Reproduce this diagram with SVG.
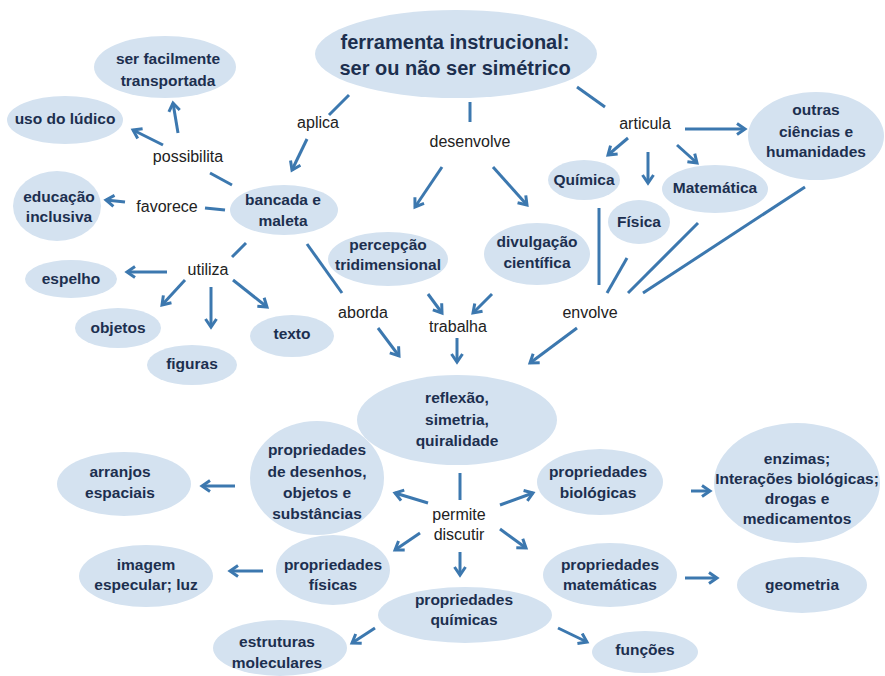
<svg xmlns="http://www.w3.org/2000/svg" width="885" height="676" viewBox="0 0 885 676">
<style>
.n ellipse{fill:#d4e2f0;}
.n text{font-family:"Liberation Sans",Arial,sans-serif;font-weight:bold;font-size:15.5px;fill:#1c2f4f;text-anchor:middle;}
.n text.t{font-size:20px;}
.c line,.c polyline{stroke:#3c78af;stroke-width:3;fill:none;stroke-linecap:butt;}
.c line.a{marker-end:url(#ah);}
.c text{font-family:"Liberation Sans",Arial,sans-serif;font-size:16px;fill:#222;text-anchor:middle;}
</style>
<defs>
<marker id="ah" markerUnits="userSpaceOnUse" markerWidth="14" markerHeight="14" viewBox="0 0 14 14" refX="11" refY="7" orient="auto">
<path d="M3,1.5 L11,7 L3,12.5" fill="none" stroke="#3c78af" stroke-width="3"/>
</marker>
</defs>
<rect width="885" height="676" fill="#fff"/>

<g class="c" id="connectors">
<line x1="349" y1="95" x2="329" y2="115"/>
<text x="318" y="128">aplica</text>
<line class="a" x1="307" y1="139" x2="292" y2="170"/>
<line x1="470" y1="102" x2="470" y2="122"/>
<text x="470" y="147">desenvolve</text>
<line class="a" x1="442" y1="167" x2="415" y2="207"/>
<line class="a" x1="493" y1="167" x2="527" y2="205"/>
<line x1="577" y1="87" x2="605" y2="107"/>
<text x="645" y="129">articula</text>
<line class="a" x1="685" y1="129" x2="745" y2="129"/>
<line class="a" x1="628" y1="138" x2="608" y2="155"/>
<line class="a" x1="648" y1="152" x2="648" y2="183"/>
<line class="a" x1="677" y1="145" x2="697" y2="163"/>
<line x1="599" y1="208" x2="599" y2="285"/>
<line x1="627" y1="258" x2="607" y2="293"/>
<line x1="698" y1="223" x2="628" y2="293"/>
<line x1="805" y1="187" x2="643" y2="293"/>
<text x="590" y="318">envolve</text>
<line class="a" x1="577" y1="328" x2="530" y2="363"/>
<line class="a" x1="428" y1="294" x2="442" y2="313"/>
<line class="a" x1="492" y1="294" x2="473" y2="313"/>
<text x="458" y="332">trabalha</text>
<line class="a" x1="457" y1="338" x2="457" y2="362"/>
<line x1="307" y1="244" x2="342" y2="293"/>
<text x="363" y="318">aborda</text>
<line class="a" x1="378" y1="328" x2="399" y2="356"/>
<line x1="232" y1="185" x2="210" y2="173"/>
<text x="188" y="162">possibilita</text>
<line class="a" x1="178" y1="133" x2="173" y2="103"/>
<line class="a" x1="163" y1="145" x2="133" y2="130"/>
<line x1="225" y1="210" x2="205" y2="208"/>
<text x="167" y="212">favorece</text>
<line class="a" x1="125" y1="202" x2="106" y2="200"/>
<line x1="246" y1="243" x2="232" y2="257"/>
<text x="208" y="275">utiliza</text>
<line class="a" x1="167" y1="272" x2="127" y2="272"/>
<line class="a" x1="185" y1="280" x2="162" y2="305"/>
<line class="a" x1="211" y1="287" x2="211" y2="327"/>
<line class="a" x1="233" y1="280" x2="267" y2="307"/>
<line x1="460" y1="473" x2="460" y2="500"/>
<text x="459" y="520">permite</text>
<text x="459" y="540">discutir</text>
<line class="a" x1="428" y1="503" x2="395" y2="493"/>
<line class="a" x1="500" y1="505" x2="533" y2="493"/>
<line class="a" x1="420" y1="533" x2="395" y2="550"/>
<line class="a" x1="500" y1="529" x2="526" y2="548"/>
<line class="a" x1="460" y1="552" x2="460" y2="575"/>
<line class="a" x1="235" y1="486" x2="202" y2="486"/>
<line class="a" x1="263" y1="571" x2="230" y2="571"/>
<line class="a" x1="375" y1="628" x2="352" y2="643"/>
<line class="a" x1="558" y1="628" x2="587" y2="642"/>
<line class="a" x1="691" y1="491" x2="710" y2="491"/>
<line class="a" x1="685" y1="578" x2="717" y2="578"/>
</g>

<g class="n" id="n-title"><ellipse cx="456" cy="54" rx="141" ry="44"/><text class="t" x="455" y="49">ferramenta instrucional:</text><text class="t" x="455" y="75">ser ou não ser simétrico</text></g>
<g class="n" id="n-transportada"><ellipse cx="165" cy="67" rx="71" ry="31"/><text x="168" y="64">ser facilmente</text><text x="168" y="86">transportada</text></g>
<g class="n" id="n-ludico"><ellipse cx="65" cy="120" rx="58" ry="24"/><text x="65" y="124">uso do lúdico</text></g>
<g class="n" id="n-educacao"><ellipse cx="57" cy="206" rx="44" ry="35"/><text x="59" y="202">educação</text><text x="59" y="222">inclusiva</text></g>
<g class="n" id="n-bancada"><ellipse cx="284" cy="210" rx="54" ry="25"/><text x="283" y="205">bancada e</text><text x="283" y="226">maleta</text></g>
<g class="n" id="n-espelho"><ellipse cx="71" cy="279" rx="46" ry="19"/><text x="71" y="284">espelho</text></g>
<g class="n" id="n-objetos"><ellipse cx="118" cy="328" rx="43" ry="20"/><text x="118" y="333">objetos</text></g>
<g class="n" id="n-figuras"><ellipse cx="192" cy="365" rx="45" ry="20"/><text x="192" y="369">figuras</text></g>
<g class="n" id="n-texto"><ellipse cx="292" cy="336" rx="42" ry="21"/><text x="292" y="339">texto</text></g>
<g class="n" id="n-percepcao"><ellipse cx="388" cy="259" rx="60" ry="27"/><text x="388" y="250">percepção</text><text x="388" y="270">tridimensional</text></g>
<g class="n" id="n-divulgacao"><ellipse cx="537" cy="254" rx="53" ry="31"/><text x="537" y="247">divulgação</text><text x="537" y="268">científica</text></g>
<g class="n" id="n-quimica"><ellipse cx="584" cy="180" rx="36" ry="20"/><text x="584" y="185">Química</text></g>
<g class="n" id="n-fisica"><ellipse cx="639" cy="222" rx="31" ry="22"/><text x="639" y="227">Física</text></g>
<g class="n" id="n-matematica"><ellipse cx="715" cy="189" rx="53" ry="24"/><text x="715" y="193">Matemática</text></g>
<g class="n" id="n-outras"><ellipse cx="816" cy="136" rx="68" ry="44"/><text x="816" y="115">outras</text><text x="816" y="137">ciências e</text><text x="816" y="157">humanidades</text></g>
<g class="n" id="n-reflexao"><ellipse cx="457" cy="420" rx="100" ry="45"/><text x="457" y="403">reflexão,</text><text x="457" y="425">simetria,</text><text x="457" y="446">quiralidade</text></g>
<g class="n" id="n-desenhos"><ellipse cx="317" cy="478" rx="67" ry="57"/><text x="317" y="455">propriedades</text><text x="317" y="477">de desenhos,</text><text x="317" y="498">objetos e</text><text x="317" y="519">substâncias</text></g>
<g class="n" id="n-arranjos"><ellipse cx="124" cy="484" rx="67" ry="32"/><text x="120" y="477">arranjos</text><text x="120" y="498">espaciais</text></g>
<g class="n" id="n-imagem"><ellipse cx="146" cy="576" rx="67" ry="31"/><text x="146" y="570">imagem</text><text x="146" y="590">especular; luz</text></g>
<g class="n" id="n-fisicas"><ellipse cx="333" cy="570" rx="57" ry="35"/><text x="333" y="570">propriedades</text><text x="333" y="590">físicas</text></g>
<g class="n" id="n-estruturas"><ellipse cx="280" cy="648" rx="67" ry="28"/><text x="277" y="647">estruturas</text><text x="277" y="668">moleculares</text></g>
<g class="n" id="n-quimicas"><ellipse cx="465" cy="615" rx="87" ry="28"/><text x="464" y="605">propriedades</text><text x="464" y="625">químicas</text></g>
<g class="n" id="n-funcoes"><ellipse cx="645" cy="652" rx="53" ry="21"/><text x="645" y="655">funções</text></g>
<g class="n" id="n-biologicas"><ellipse cx="600" cy="482" rx="63" ry="33"/><text x="598" y="477">propriedades</text><text x="598" y="498">biológicas</text></g>
<g class="n" id="n-enzimas"><ellipse cx="797" cy="483" rx="83" ry="60"/><text x="797" y="464">enzimas;</text><text x="797" y="484">Interações biológicas;</text><text x="797" y="504">drogas e</text><text x="797" y="524">medicamentos</text></g>
<g class="n" id="n-matematicas"><ellipse cx="610" cy="575" rx="67" ry="32"/><text x="610" y="570">propriedades</text><text x="610" y="590">matemáticas</text></g>
<g class="n" id="n-geometria"><ellipse cx="802" cy="585" rx="65" ry="28"/><text x="802" y="590">geometria</text></g>
</svg>
